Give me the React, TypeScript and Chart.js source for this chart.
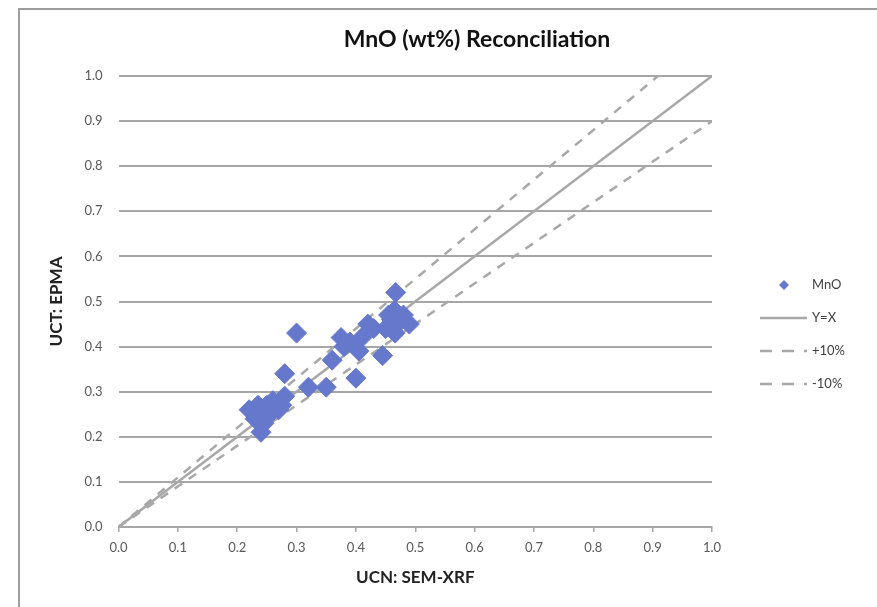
import React, { useEffect, useRef } from "react";
import { Chart, registerables } from "chart.js";

Chart.register(...registerables);

// MnO measurements: UCN SEM-XRF (x) vs UCT EPMA (y)
const mnoX = [0.22, 0.23, 0.24, 0.245, 0.25, 0.26, 0.27, 0.275, 0.28, 0.23, 0.3, 0.28, 0.32, 0.35, 0.4, 0.36, 0.375, 0.38, 0.39, 0.405, 0.41, 0.42, 0.43, 0.445, 0.45, 0.455, 0.465, 0.467, 0.47, 0.48, 0.49, 0.466, 0.46, 0.235, 0.255];
const mnoY = [0.26, 0.24, 0.21, 0.23, 0.27, 0.28, 0.26, 0.27, 0.29, 0.25, 0.43, 0.34, 0.31, 0.31, 0.33, 0.37, 0.42, 0.4, 0.41, 0.39, 0.42, 0.45, 0.44, 0.38, 0.44, 0.47, 0.48, 0.52, 0.45, 0.47, 0.45, 0.43, 0.46, 0.27, 0.25];

// Reference lines
const yxX = [0, 1];
const yxY = [0, 1];
const plusX = [0, 0.909];
const plusY = [0, 1];
const minusX = [0, 1];
const minusY = [0, 0.9];

const seriesLabels = ["MnO", "Y=X", "+10%", "-10%"];
const titleText = "MnO (wt%) Reconciliation";
const xTitle = "UCN: SEM-XRF";
const yTitle = "UCT: EPMA";
const axisMin = 0;
const axisMax = 1;
const axisStep = 0.1;

const zip = (xs: number[], ys: number[]) => xs.map((x, i) => ({ x, y: ys[i] }));

const BLUE = "#6678CC";
const LINE_GRAY = "#A8A8A8";
const GRID_GRAY = "#A6A6A6";
const FONT = "Lato, 'Open Sans', sans-serif";

const titlePlugin = {
  id: "frameTitle",
  afterDraw(chart: any) {
    const { ctx } = chart;
    ctx.save();
    ctx.fillStyle = "#111";
    ctx.font = `bold 23px ${FONT}`;
    ctx.textAlign = "center";
    ctx.textBaseline = "middle";
    ctx.fillText(titleText, 477, 40);
    ctx.restore();
  },
};

const legendPlugin = {
  id: "customLegend",
  afterDraw(chart: any) {
    const { ctx, chartArea } = chart;
    const x0 = chartArea.right + 48;
    const y0 = 285;
    const gap = 33;
    ctx.save();
    chart.data.datasets.forEach((ds: any, i: number) => {
      const y = y0 + i * gap;
      if (i === 0) {
        ctx.fillStyle = ds.backgroundColor;
        const cx = x0 + 24;
        const r = 5;
        ctx.beginPath();
        ctx.moveTo(cx, y - r);
        ctx.lineTo(cx + r, y);
        ctx.lineTo(cx, y + r);
        ctx.lineTo(cx - r, y);
        ctx.closePath();
        ctx.fill();
      } else {
        ctx.strokeStyle = ds.borderColor;
        ctx.lineWidth = ds.borderWidth;
        ctx.setLineDash(ds.borderDash ? [12, 10] : []);
        ctx.beginPath();
        ctx.moveTo(x0, y);
        ctx.lineTo(x0 + 47, y);
        ctx.stroke();
        ctx.setLineDash([]);
      }
      ctx.fillStyle = "#404040";
      ctx.font = `13px ${FONT}`;
      ctx.textAlign = "left";
      ctx.textBaseline = "middle";
      ctx.fillText(ds.label, x0 + 52, y);
    });
    ctx.restore();
  },
};

export default function App() {
  const canvasRef = useRef<HTMLCanvasElement | null>(null);

  useEffect(() => {
    if (!canvasRef.current) return;
    const chart = new Chart(canvasRef.current, {
      type: "scatter",
      data: {
        datasets: [
          {
            label: seriesLabels[0],
            data: zip(mnoX, mnoY),
            backgroundColor: BLUE,
            borderColor: BLUE,
            borderWidth: 1,
            pointStyle: "rectRot",
            pointRadius: 10,
            showLine: false,
          },
          {
            label: seriesLabels[1],
            data: zip(yxX, yxY),
            borderColor: LINE_GRAY,
            backgroundColor: LINE_GRAY,
            borderWidth: 2.5,
            showLine: true,
            pointRadius: 0,
          },
          {
            label: seriesLabels[2],
            data: zip(plusX, plusY),
            borderColor: LINE_GRAY,
            backgroundColor: LINE_GRAY,
            borderWidth: 2.5,
            borderDash: [9, 8],
            showLine: true,
            pointRadius: 0,
          },
          {
            label: seriesLabels[3],
            data: zip(minusX, minusY),
            borderColor: LINE_GRAY,
            backgroundColor: LINE_GRAY,
            borderWidth: 2.5,
            borderDash: [9, 8],
            showLine: true,
            pointRadius: 0,
          },
        ],
      },
      options: {
        animation: false,
        responsive: false,
        maintainAspectRatio: false,
        layout: { padding: { left: 46, right: 165, top: 76, bottom: 10 } },
        plugins: {
          legend: { display: false },
          tooltip: { enabled: false },
          title: { display: false },
        },
        scales: {
          x: {
            type: "linear",
            min: axisMin,
            max: axisMax,
            ticks: {
              stepSize: axisStep,
              color: "#595959",
              font: { family: FONT, size: 13 },
              padding: 8,
              maxRotation: 0,
              callback: (v: any) => Number(v).toFixed(1),
            },
            grid: {
              display: true,
              drawOnChartArea: false,
              drawTicks: true,
              tickLength: 5,
              color: GRID_GRAY,
              lineWidth: 1.5,
            },
            border: { display: true, color: GRID_GRAY, width: 2 },
            title: {
              display: true,
              text: xTitle,
              color: "#222",
              font: { family: FONT, size: 17, weight: "bold" },
              padding: { top: 4, bottom: 9 },
            },
          },
          y: {
            type: "linear",
            min: axisMin,
            max: axisMax,
            ticks: {
              stepSize: axisStep,
              color: "#595959",
              font: { family: FONT, size: 13 },
              padding: 16,
              callback: (v: any) => Number(v).toFixed(1),
            },
            grid: {
              color: GRID_GRAY,
              lineWidth: 2,
              drawTicks: false,
            },
            border: { display: false },
            title: {
              display: true,
              text: yTitle,
              color: "#222",
              font: { family: FONT, size: 17, weight: "bold" },
              padding: { top: 0, bottom: 2 },
            },
          },
        },
      },
      plugins: [legendPlugin, titlePlugin],
    });
    return () => chart.destroy();
  }, []);

  return (
    <div
      style={{
        position: "fixed",
        left: 0,
        top: 0,
        width: 877,
        height: 607,
        overflow: "hidden",
        background: "#fff",
      }}
    >
      <div
        style={{
          position: "absolute",
          left: 18,
          top: 8,
          width: 920,
          height: 660,
          border: "2px solid #9E9E9E",
          boxSizing: "border-box",
        }}
      />
      <canvas
        ref={canvasRef}
        width={877}
        height={607}
        style={{ position: "absolute", left: 0, top: 0, width: 877, height: 607 }}
      />
    </div>
  );
}
